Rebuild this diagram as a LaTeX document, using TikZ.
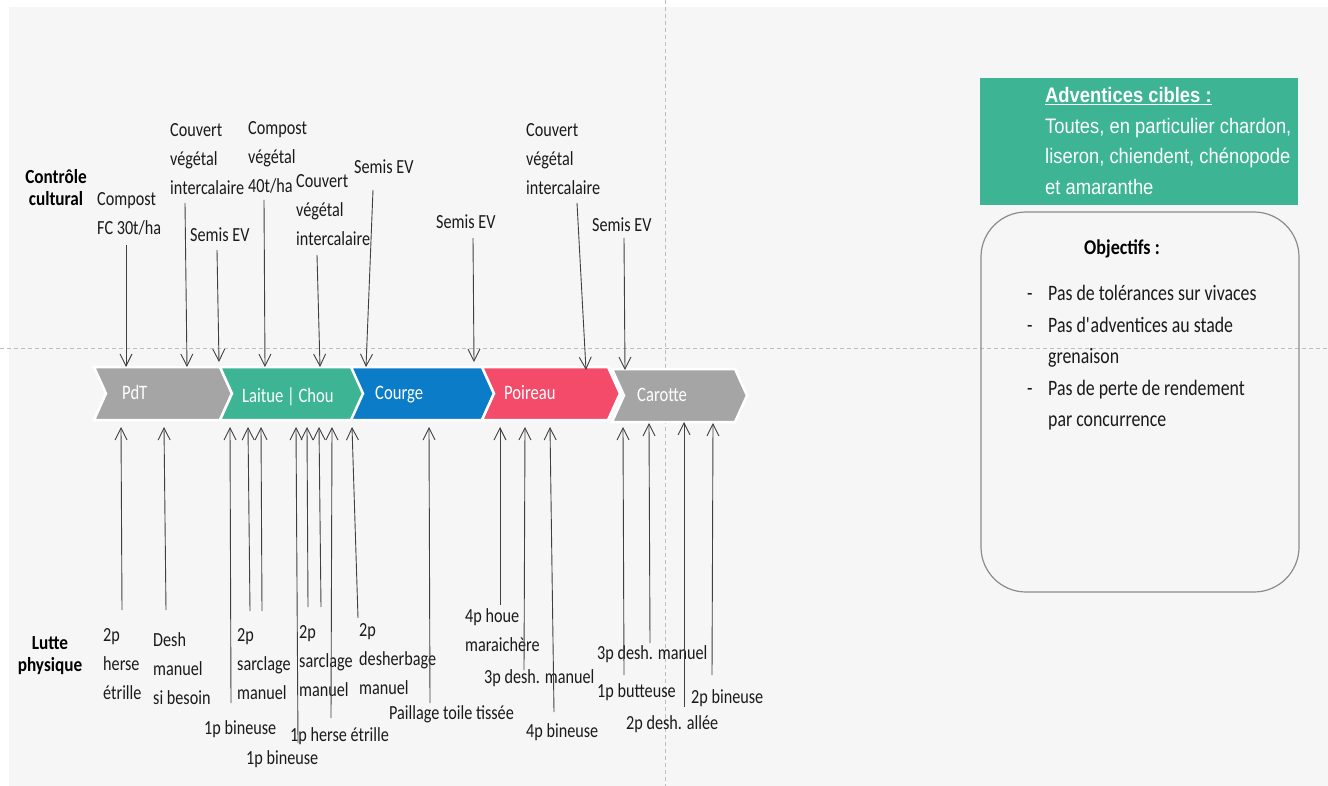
\documentclass[tikz,border=0pt]{standalone}
\usepackage{fontspec}
\setmainfont{Carlito}[FakeStretch=0.81]
\newfontfamily\boldlab{Carlito}[FakeStretch=0.86]
\newfontfamily\arialf{Liberation Sans}[FakeStretch=0.875]
\usetikzlibrary{arrows.meta}
\definecolor{bg}{HTML}{F6F6F6}
\definecolor{cgray}{HTML}{A5A5A5}
\definecolor{cgreen}{HTML}{3DB595}
\definecolor{cblue}{HTML}{0B7DC8}
\definecolor{cpink}{HTML}{F44B6A}
\definecolor{txt}{HTML}{1A1A1A}
\definecolor{arrc}{HTML}{404040}
\definecolor{dashc}{HTML}{BDBDBD}
\definecolor{boxc}{HTML}{8C8C8C}
\newcommand\chevron[5]{\path[chev=#5] (#1,#3) -- (#2,#3) -- ({#2+12},{(#3+#4)/2}) -- (#2,#4) -- (#1,#4) -- ({#1+12},{(#3+#4)/2}) -- cycle;}
\begin{document}
\begin{tikzpicture}[x=1pt,y=-1pt,
  lab/.style={font=\fontsize{20}{29}\selectfont, inner sep=0pt, anchor=north west, align=left, text=txt, execute at begin node=\strut},
  side/.style={font=\boldlab\bfseries\fontsize{20}{22}\selectfont, inner sep=0pt, anchor=north, align=center, text=black, execute at begin node=\strut},
  chevlab/.style={font=\fontsize{20.5}{24}\selectfont, inner sep=0pt, anchor=base west, text=white},
  arr/.style={draw=arrc, line width=0.9pt, -{Straight Barb[length=12pt,width=12pt]}},
  guide/.style={draw=dashc, line width=1pt, dash pattern=on 4pt off 3pt},
  chev/.style={fill=#1, draw=white, line width=2.5pt, line join=miter}
]
\path[use as bounding box, fill=white] (0,0) rectangle (1328,786);
\fill[bg] (9,7) rectangle (1328,786);
% guides
\draw[guide] (665,0) -- (665,786);
\draw[guide] (0,348) -- (1328,348);
% chevrons
\chevron{94}{220}{367}{420}{cgray}
\chevron{220}{352}{367}{420}{cgreen}
\chevron{351}{482}{367}{420}{cblue}
\chevron{482}{608}{367}{420}{cpink}
\chevron{612}{735}{369}{422}{cgray}
\node[chevlab] (pdt) at (122,399.5) {PdT};
\node[chevlab] (lai) at (242,402.5) {Laitue | Chou};
\node[chevlab] (cou) at (375,399.5) {Courge};
\node[chevlab] (poi) at (504,399.5) {Poireau};
\node[chevlab] (car) at (637,401.5) {Carotte};
% side labels
\node[side] (cc) at (56,169) {Contrôle\\cultural};
\node[side] (lp) at (50,636) {Lutte\\physique};
% top labels
\node[lab] (t1) at (97,192) {Compost\\FC 30t/ha};
\node[lab] (t2) at (170,123) {Couvert\\végétal\\intercalaire};
\node[lab] (t3) at (190,221) {Semis EV};
\node[lab] (t4) at (248,121) {Compost\\végétal\\40t/ha};
\node[lab] (t5) at (296,174) {Couvert\\végétal\\intercalaire};
\node[lab] (t6) at (354,153) {Semis EV};
\node[lab] (t7) at (436,208) {Semis EV};
\node[lab] (t8) at (526,123) {Couvert\\végétal\\intercalaire};
\node[lab] (t9) at (592,211) {Semis EV};
% bottom labels
\node[lab] (b1) at (103,628) {2p\\herse\\étrille};
\node[lab] (b2) at (153,632) {Desh\\manuel\\si besoin};
\node[lab] (b3) at (204,714) {1p bineuse};
\node[lab] (b4) at (237,628) {2p\\sarclage\\manuel};
\node[lab] (b5) at (246,744) {1p bineuse};
\node[lab] (b6) at (299,625) {2p\\sarclage\\manuel};
\node[lab] (b7) at (290,721) {1p herse étrille};
\node[lab] (b8) at (359,623) {2p\\desherbage\\manuel};
\node[lab] (b9) at (389,699) {Paillage toile tissée};
\node[lab] (b10) at (465,608) {4p houe\\maraichère};
\node[lab] (b11) at (484,663) {3p desh. manuel};
\node[lab] (b12) at (526,717) {4p bineuse};
\node[lab] (b13) at (597,639) {3p desh. manuel};
\node[lab] (b14) at (597,677) {1p butteuse};
\node[lab] (b15) at (626,709) {2p desh. allée};
\node[lab] (b16) at (691,683) {2p bineuse};
% top arrows
\foreach \n/\xa/\ya/\xb/\yb in {1/126/245/126/367, 2/185/203/187/367, 3/217/250/219/362,
  4/264/200/265/367, 5/317/255/320/367, 6/373/190/366/367, 7/473/238/474/362,
  8/577/203/586/370, 9/624/238/625/370}{
  \coordinate (ts\n) at (\xa,\ya);
  \coordinate (te\n) at (\xb,\yb);
  \draw[arr] (ts\n) -- (te\n);
}
% bottom arrows
\foreach \n/\xa/\ya/\xb/\yb in {a/122/610/121/427, b/166/610/164/427, c/231/703/230/427,
  d/250/611/248/427, e/262/611/261/427, f/298/743/296/427, g/308/607/307/427,
  h/321/607/319/427, i/331/718/332/427, j/358/618/352/427, k/430/703/429/427,
  l/500/605/500/427, m/524/670/525/427, n/554/712/550/427, o/624/675/623/427,
  p/650/643/649/423, q/684/707/684/422, r/712/675/713/423}{
  \coordinate (bs\n) at (\xa,\ya);
  \coordinate (be\n) at (\xb,\yb);
  \draw[arr] (bs\n) -- (be\n);
}
% right panel
\fill[cgreen] (980,78) rectangle (1298,205);
\node[inner sep=0pt, anchor=north west, align=left, text=white,
  font=\arialf\fontsize{21}{30.5}\selectfont, execute at begin node=\strut] (adv) at (1045,87.5)
  {{\bfseries\underline{Adventices cibles :}}\\Toutes, en particulier chardon,\\liseron, chiendent, chénopode\\et amaranthe};
\draw[boxc, line width=1.2pt, rounded corners=45pt] (981,212) rectangle (1299,592);
\node[inner sep=0pt, anchor=base, font=\boldlab\bfseries\fontsize{21}{24}\selectfont, text=black] (obj) at (1122,255) {Objectifs :};
\node[inner sep=0pt, anchor=north west, text=txt, font=\fontsize{22}{31.5}\selectfont] (list) at (1027,278.5)
  {\begin{tabular}{@{}l@{\hspace{15.5pt}}l@{}}
  - & Pas de tolérances sur vivaces\\
  - & Pas d\textquotesingle adventices au stade\\
    & grenaison\\
  - & Pas de perte de rendement\\
    & par concurrence
  \end{tabular}};
\end{tikzpicture}
\end{document}
